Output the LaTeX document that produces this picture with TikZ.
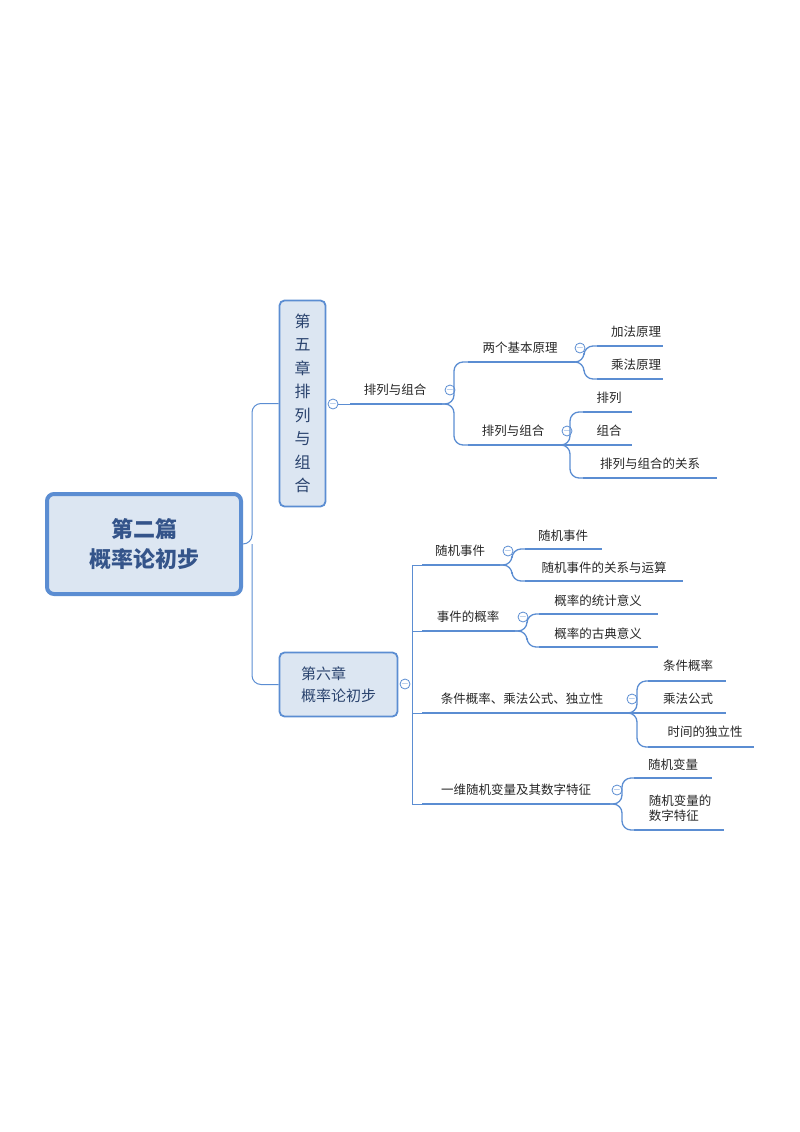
\documentclass[tikz,border=0pt]{standalone}
\usepackage{fontspec}
\setmainfont{Noto Sans CJK SC}
\definecolor{ln}{HTML}{5B8DD2}
\definecolor{bx}{HTML}{DCE6F2}
\definecolor{tt}{HTML}{34548A}
\begin{document}
\begin{tikzpicture}[x=1pt,y=-1pt,
 lbl/.style={inner sep=0pt,font=\fontsize{12.5}{15}\selectfont,text=black!85},
 ul/.style={draw=ln,line width=2.6pt},
 conn/.style={draw=ln,line width=1.3pt,rounded corners=9},
 col/.style={circle,draw=ln,fill=white,line width=0.8pt,minimum size=10pt,inner sep=0pt,font=\fontsize{8}{8}\selectfont,text=ln,label={[text=ln,inner sep=0pt]center:$-$}}]
\useasboundingbox (0,0) rectangle (800,1132);
% root
\node[draw=ln,fill=bx,line width=4pt,rounded corners=7,minimum width=194pt,minimum height=100pt,align=center,text=tt,font=\fontsize{22}{30}\selectfont\bfseries] (root) at (144,544) {第二篇\\概率论初步};
\node[draw=ln,fill=bx,line width=1.8pt,rounded corners=5,minimum width=46pt,minimum height=206pt,align=center,text=tt!80!black,font=\fontsize{16}{23.5}\selectfont] (c5) at (302.5,403.5) {第\\五\\章\\排\\列\\与\\组\\合};
\node[draw=ln,fill=bx,line width=1.8pt,rounded corners=5,minimum width=118pt,minimum height=64pt,align=left,text=tt!80!black,font=\fontsize{15}{22}\selectfont] (c6) at (338.5,684.5) {第六章\\概率论初步};
\coordinate (sp) at (252,544);
\draw[conn,line width=1pt] (root.east) -- (sp) |- (c5.west);
\draw[conn,line width=1pt] (sp) |- (c6.west);
% chapter 5
\node[col] (k5) at (333,404) {};
\node[lbl] (a) at (395,390) {排列与组合};
\coordinate (aa) at (350,404); \coordinate (ab) at (442,404);
\draw[conn,line width=1pt] (k5) -- (aa);
\draw[ul] (aa) -- (ab);
\node[col] (ka) at (450,390) {};
\node[lbl] (a1) at (520,348) {两个基本原理};
\coordinate (a1a) at (468,362); \coordinate (a1b) at (575,362);
\node[lbl] (a2) at (513,431) {排列与组合};
\coordinate (a2a) at (468,445); \coordinate (a2b) at (560,445);
\draw[ul] (a1a)--(a1b); \draw[ul] (a2a)--(a2b);
\draw[conn] (ab) -- ++(12,0) |- (a1a);
\draw[conn] (ab) -- ++(12,0) |- (a2a);
\node[col] (ka1) at (580,348) {};
\node[col] (ka2) at (567,431) {};
\node[lbl] (a11) at (636,332) {加法原理};
\coordinate (a11a) at (597,346); \coordinate (a11b) at (663,346);
\node[lbl] (a12) at (636,365) {乘法原理};
\coordinate (a12a) at (597,379); \coordinate (a12b) at (663,379);
\draw[ul] (a11a)--(a11b); \draw[ul] (a12a)--(a12b);
\draw[conn] (a1b) -- ++(9,0) |- (a11a);
\draw[conn] (a1b) -- ++(9,0) |- (a12a);
\node[lbl] (a21) at (609,398) {排列};
\coordinate (a21a) at (583,412); \coordinate (a21b) at (632,412);
\node[lbl] (a22) at (609,431) {组合};
\coordinate (a22a) at (583,445); \coordinate (a22b) at (632,445);
\node[lbl] (a23) at (650,464) {排列与组合的关系};
\coordinate (a23a) at (583,478); \coordinate (a23b) at (717,478);
\draw[ul] (a21a)--(a21b); \draw[ul] (a22a)--(a22b); \draw[ul] (a23a)--(a23b);
\draw[conn] (a2b) -- ++(10,0) |- (a21a);
\draw[conn] (a2b) -- (a22a);
\draw[conn] (a2b) -- ++(10,0) |- (a23a);
% chapter 6
\node[col] (k6) at (405,684) {};
\coordinate (s6) at (412,684);
\node[lbl] (b1) at (460,551) {随机事件};
\coordinate (b1a) at (422,565); \coordinate (b1b) at (500,565);
\node[lbl] (b2) at (468,617) {事件的概率};
\coordinate (b2a) at (422,631); \coordinate (b2b) at (515,631);
\node[lbl] (b3) at (522,699) {条件概率、乘法公式、独立性};
\coordinate (b3a) at (422,713); \coordinate (b3b) at (625,713);
\node[lbl] (b4) at (516,790) {一维随机变量及其数字特征};
\coordinate (b4a) at (422,804); \coordinate (b4b) at (610,804);
\foreach \n in {b1,b2,b3,b4} {\draw[ul] (\n a)--(\n b);}
\draw[conn,line width=1pt,rounded corners=0] (s6|-b1a) -- (s6|-b4a);
\foreach \n in {b1,b2,b3,b4} {\draw[conn,line width=1pt] (s6|-\n a) -- (\n a);}
\node[col] (kb1) at (508,551) {};
\node[col] (kb2) at (523,617) {};
\node[col] (kb3) at (632,699) {};
\node[col] (kb4) at (617,790) {};
% b1 children
\node[lbl] (b11) at (563,536) {随机事件};
\coordinate (b11a) at (525,549); \coordinate (b11b) at (602,549);
\node[lbl] (b12) at (604,568) {随机事件的关系与运算};
\coordinate (b12a) at (525,581); \coordinate (b12b) at (683,581);
\draw[ul] (b11a)--(b11b); \draw[ul] (b12a)--(b12b);
\draw[conn] (b1b) -- ++(12,0) |- (b11a);
\draw[conn] (b1b) -- ++(12,0) |- (b12a);
% b2 children
\node[lbl] (b21) at (598,601) {概率的统计意义};
\coordinate (b21a) at (539,614); \coordinate (b21b) at (658,614);
\node[lbl] (b22) at (598,634) {概率的古典意义};
\coordinate (b22a) at (539,647); \coordinate (b22b) at (658,647);
\draw[ul] (b21a)--(b21b); \draw[ul] (b22a)--(b22b);
\draw[conn] (b2b) -- ++(12,0) |- (b21a);
\draw[conn] (b2b) -- ++(12,0) |- (b22a);
% b3 children
\node[lbl] (b31) at (688,666) {条件概率};
\coordinate (b31a) at (648,681); \coordinate (b31b) at (726,681);
\node[lbl] (b32) at (688,699) {乘法公式};
\coordinate (b32a) at (648,713); \coordinate (b32b) at (726,713);
\node[lbl] (b33) at (705,732) {时间的独立性};
\coordinate (b33a) at (648,747); \coordinate (b33b) at (754,747);
\draw[ul] (b31a)--(b31b); \draw[ul] (b32a)--(b32b); \draw[ul] (b33a)--(b33b);
\draw[conn] (b3b) -- ++(12,0) |- (b31a);
\draw[conn] (b3b) -- (b32a);
\draw[conn] (b3b) -- ++(12,0) |- (b33a);
% b4 children
\node[lbl] (b41) at (673,765) {随机变量};
\coordinate (b41a) at (634,778); \coordinate (b41b) at (712,778);
\node[lbl,align=left] (b42) at (680,808) {随机变量的\\数字特征};
\coordinate (b42a) at (634,830); \coordinate (b42b) at (724,830);
\draw[ul] (b41a)--(b41b); \draw[ul] (b42a)--(b42b);
\draw[conn] (b4b) -- ++(12,0) |- (b41a);
\draw[conn] (b4b) -- ++(12,0) |- (b42a);
\end{tikzpicture}
\end{document}
